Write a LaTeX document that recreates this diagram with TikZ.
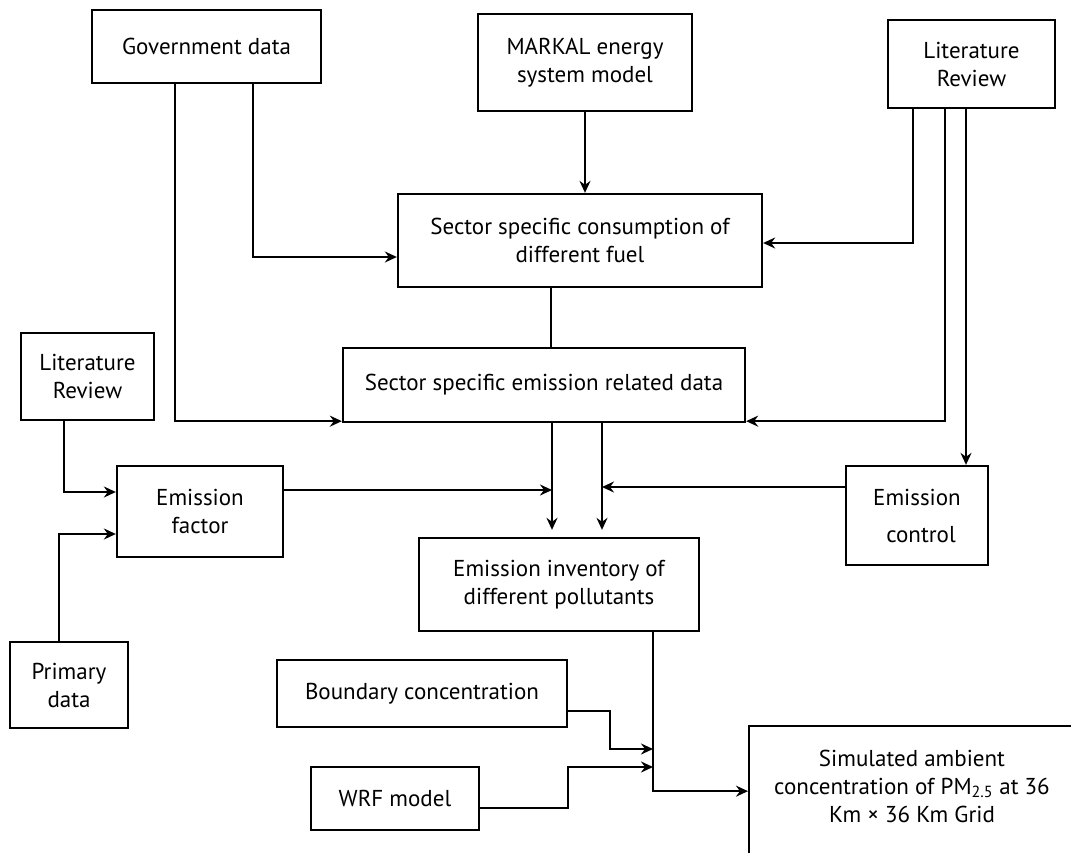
\documentclass[tikz,border=0pt]{standalone}
\usepackage{fontspec}
\setmainfont{PT Sans}
\usetikzlibrary{arrows.meta,calc}
\tikzset{
  bx/.style={draw, line width=2.3pt, align=center, inner sep=0pt,
    font=\fontsize{23}{28}\selectfont},
  arr/.style={line width=2pt, -{Stealth[length=12pt,width=11pt,inset=4pt]}},
  ln/.style={line width=2pt},
}
\begin{document}
\begin{tikzpicture}[x=1pt,y=-1pt]
\useasboundingbox (0,0) rectangle (1071,852);
\clip (0,0) rectangle (1071,852);
\node[bx, minimum width=229, minimum height=73] (gov) at (206.5,46.5) {Government data};
\node[bx, minimum width=214, minimum height=97] (markal) at (585,62.5) {MARKAL energy\\system model};
\node[bx, minimum width=167, minimum height=88] (litR) at (971.5,64) {Literature\\Review};
\node[bx, minimum width=364, minimum height=93] (cons) at (580,240.5) {Sector specific consumption of\\different fuel};
\node[bx, minimum width=402, minimum height=74] (emis) at (544,385) {Sector specific emission related data};
\node[bx, minimum width=133, minimum height=87] (litL) at (87.5,376.5) {Literature\\Review};
\node[bx, minimum width=166, minimum height=91] (factor) at (200,511.5) {Emission\\factor};
\node[bx, minimum width=142, minimum height=99] (control) at (917,515.5) {Emission\\[9pt]\hspace*{8pt}control};
\node[bx, minimum width=280, minimum height=93] (inv) at (559,584.5) {Emission inventory of\\different pollutants};
\node[bx, minimum width=118, minimum height=86] (primary) at (69,685) {Primary\\data};
\node[bx, minimum width=290, minimum height=67] (boundary) at (422,693.5) {Boundary concentration};
\node[bx, minimum width=168, minimum height=63] (wrf) at (395,798.5) {WRF model};
\node[bx, minimum width=330, minimum height=160, anchor=north west] (simbox) at (748,725) {};
\node[bx, draw=none] (sim) at (912,786) {Simulated ambient\\concentration of PM\textsubscript{2.5} at 36\\Km × 36 Km Grid};

% Government data
\draw[arr] ([xshift=-31.5pt]gov.south) |- ([yshift=2pt]emis.south west);
\draw[arr] ([xshift=46.5pt]gov.south) |- ([yshift=-16.5pt]cons.west);
% MARKAL
\draw[arr] (markal.south) -- (markal.south |- cons.north);
% Literature review (right)
\draw[arr] ([xshift=-58.5pt]litR.south) |- ([yshift=-2.5pt]cons.east);
\draw[arr] ([xshift=-26.5pt]litR.south) |- ([yshift=2pt]emis.south east);
\draw[arr] ([xshift=-5.5pt]litR.south) -- ([xshift=-5.5pt]litR.south |- control.north);
% consumption to emission data
\draw[ln] ([xshift=-29pt]cons.south) -- ([xshift=-29pt]cons.south |- emis.north);
% emission data to inventory
\coordinate (j1) at ([xshift=8pt]emis.south);
\coordinate (j2) at ([xshift=58pt]emis.south);
\draw[arr, shorten >=7pt] (j1) -- (j1 |- inv.north);
\draw[arr, shorten >=7pt] (j2) -- (j2 |- inv.north);
\draw[arr] ([yshift=21.5pt]factor.east) -- ([yshift=21.5pt]factor.east -| j1);
\draw[arr] ([yshift=28.5pt]control.west) -- ([yshift=28.5pt]control.west -| j2);
% left inputs
\draw[arr] ([xshift=-23.5pt]litL.south) |- ([yshift=19.5pt]factor.west);
\draw[arr] ([xshift=-10.5pt]primary.north) |- ([yshift=-22.5pt]factor.west);
% inventory to simulation
\coordinate (k) at ([xshift=94pt]inv.south);
\draw[arr] (k) |- ([yshift=15pt]simbox.west);
\draw[arr] ([yshift=-17.5pt]boundary.east) -- ++(42,0) |- (k |- 0,749);
\draw[arr] ([yshift=-9pt]wrf.east) -- ++(88,0) |- (k |- 0,767);
\end{tikzpicture}
\end{document}
